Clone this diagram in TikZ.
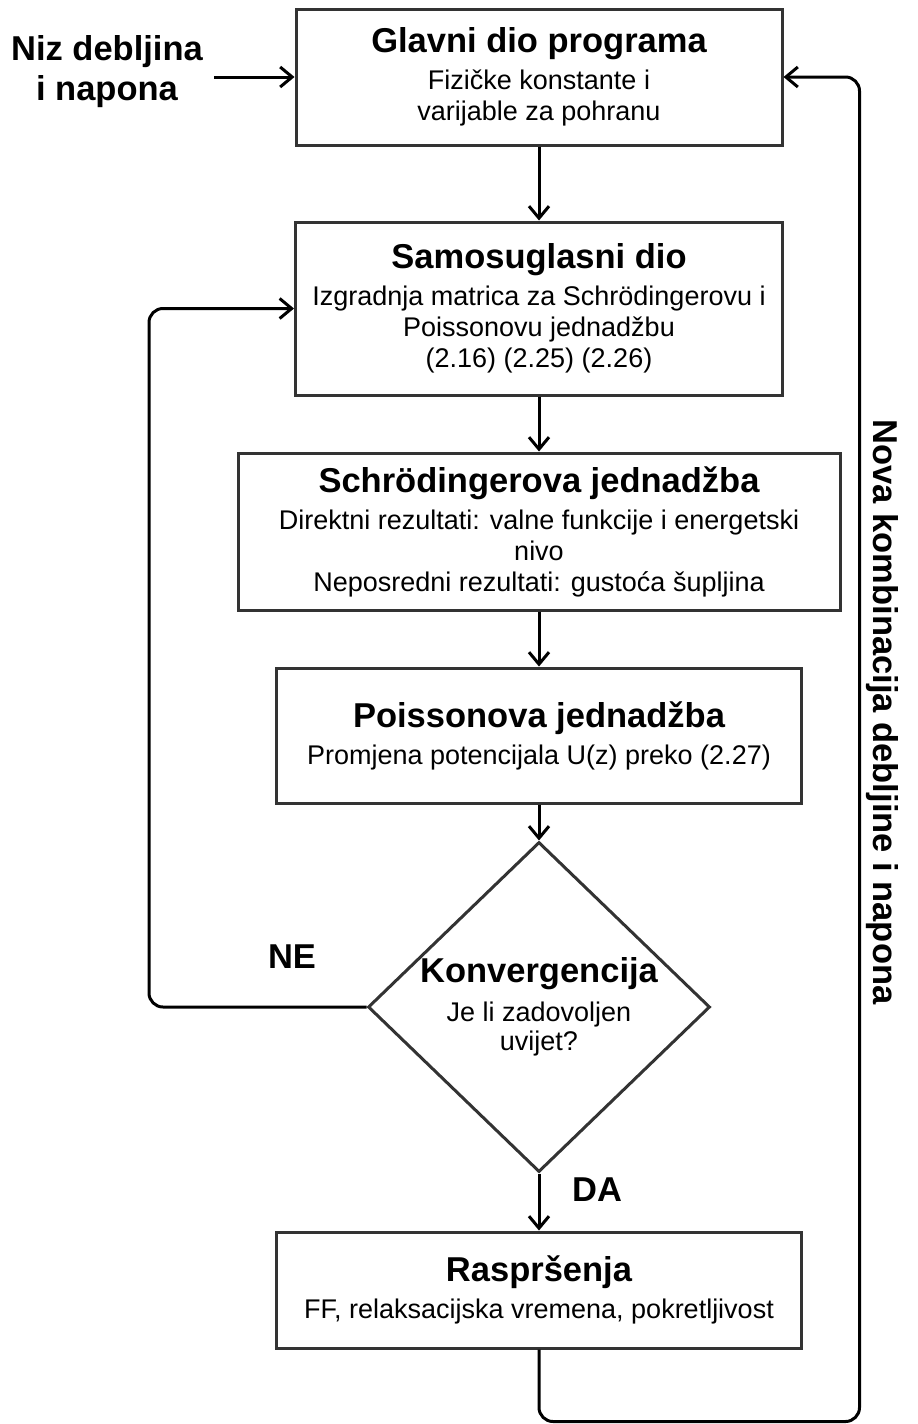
\documentclass[tikz,border=0pt]{standalone}
\usepackage{fontspec}
\setmainfont{Liberation Sans}
\usepackage{tikz}
\usetikzlibrary{positioning}
\usetikzlibrary{arrows.meta, shapes.geometric}
\usepackage{xcolor}
\definecolor{okvir}{HTML}{333333}

\newcommand{\naslov}[1]{{\fontsize{34.5}{40}\selectfont\bfseries #1}}

\begin{document}
\begin{tikzpicture}[x=1pt, y=-1pt,
  blok/.style = {draw=okvir, line width=3pt, rectangle, align=center, inner sep=0pt, font=\fontsize{27}{31}\selectfont},
  odluka/.style = {draw=okvir, line width=3pt, diamond, inner sep=0pt, minimum width=342pt, minimum height=330pt},
  oznaka/.style = {font=\fontsize{34.5}{40}\selectfont\bfseries, align=center},
  >={Straight Barb[length=12pt, width=20pt, line width=3pt]},
  veza/.style = {->, line width=3pt, rounded corners=14pt}]
\useasboundingbox (0,0) rectangle (918,1424);

% glavni tok
\node[blok, minimum width=486pt, minimum height=136pt] (glavni) at (539,77) {\naslov{Glavni dio programa}\\[6pt] Fizičke konstante i\\ varijable za pohranu};
\node[blok, minimum width=487pt, minimum height=173pt] (samo) at (539,308.5) {\naslov{Samosuglasni dio}\\[6pt] Izgradnja matrica za Schrödingerovu i\\ Poissonovu jednadžbu\\ (2.16) (2.25) (2.26)};
\node[blok, minimum width=602pt, minimum height=157pt] (schr) at (539,531.5) {\naslov{Schrödingerova jednadžba}\\[6pt] Direktni rezultati: valne funkcije i energetski\\ nivo\\ Neposredni rezultati: gustoća šupljina};
\node[blok, minimum width=525pt, minimum height=135pt] (poiss) at (539,735.5) {\naslov{Poissonova jednadžba}\\[6pt] Promjena potencijala U(z) preko (2.27)};
\node[odluka] (konv) at (539,1007) {};
\node[align=center, font=\fontsize{27}{29}\selectfont] (konvtekst) at (konv) {\naslov{Konvergencija}\\[10pt] Je li zadovoljen\\ uvijet?};
\node[blok, minimum width=525pt, minimum height=116pt] (rasp) at (539,1290) {\naslov{Raspršenja}\\[6pt] FF, relaksacijska vremena, pokretljivost};

% oznake
\node[oznaka] (ulaz) at (107,72) {Niz debljina\\ i napona};
\node[oznaka] (ne) at (292,957) {NE};
\node[oznaka] (da) at (597,1190) {DA};
\node[oznaka, rotate=-90] (nova) at (882,712) {Nova kombinacija debljine i napona};

% veze
\draw[veza] ([xshift=8pt]ulaz.east |- glavni.west) -- (glavni.west);
\draw[veza] (glavni) -- (samo);
\draw[veza] (samo) -- (schr);
\draw[veza] (schr) -- (poiss);
\draw[veza] (poiss) -- (konv);
\draw[veza] (konv) -- (rasp);
\draw[veza] (konv.west) -| ([xshift=-145pt]samo.west) -- (samo.west);
\draw[veza] (rasp.south) -- ++(0,72) -| ([xshift=76pt]glavni.east) -- (glavni.east);
\end{tikzpicture}
\end{document}
